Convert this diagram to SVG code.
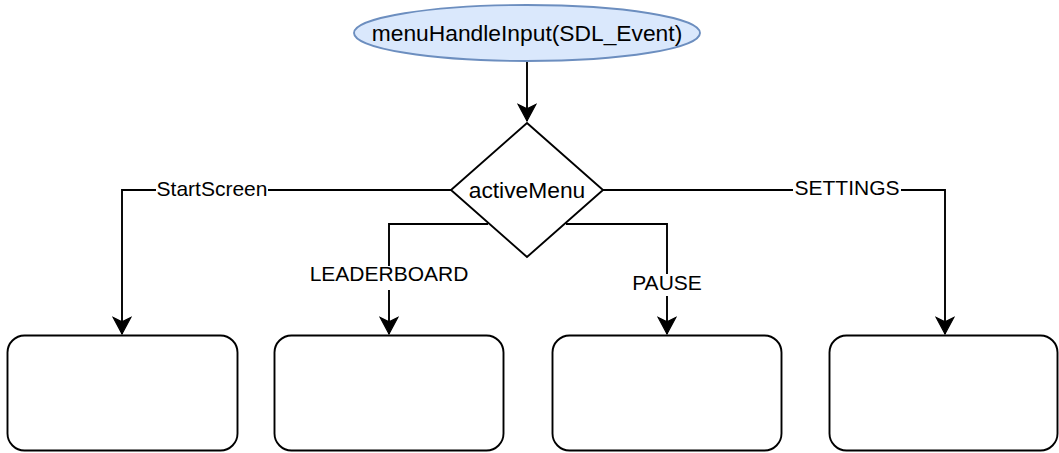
<svg xmlns="http://www.w3.org/2000/svg" width="1059" height="453" viewBox="0 0 1059 453">
<style>
.conn{fill:none;stroke:#000;stroke-width:1.9;}
.box{fill:#fff;stroke:#000;stroke-width:1.9;}
.lbl{font-family:"Liberation Sans",Arial,sans-serif;font-size:21px;fill:#000;text-anchor:middle;}
.main{font-family:"Liberation Sans",Arial,sans-serif;font-size:22.8px;fill:#000;text-anchor:middle;}
.bg{fill:#fff;}
</style>
<defs>
<marker id="arr" markerUnits="userSpaceOnUse" markerWidth="20" markerHeight="20" viewBox="-16 -9 18 18" refX="0" refY="0" orient="auto">
<path d="M0,0 L-15,-8 L-11,0 L-15,8 Z" fill="#000" stroke="#000" stroke-width="1"/>
</marker>
</defs>
<g id="connectors">
<path class="conn" d="M527,61 L527,121" marker-end="url(#arr)"/>
<path class="conn" d="M451,190 L122,190 L122,334" marker-end="url(#arr)"/>
<path class="conn" d="M488,224 L389,224 L389,334" marker-end="url(#arr)"/>
<path class="conn" d="M566,224 L667,224 L667,334" marker-end="url(#arr)"/>
<path class="conn" d="M603,190 L945,190 L945,334" marker-end="url(#arr)"/>
<g id="edge-labels">
<rect class="bg" x="156" y="179" width="112" height="22"/>
<text class="lbl" x="212" y="196">StartScreen</text>
<rect class="bg" x="308" y="266" width="161" height="24"/>
<text class="lbl" x="389" y="281">LEADERBOARD</text>
<rect class="bg" x="630" y="274" width="74" height="22"/>
<text class="lbl" x="667" y="290">PAUSE</text>
<rect class="bg" x="793" y="179" width="108" height="22"/>
<text class="lbl" x="847" y="195">SETTINGS</text>
</g>
</g>
<g id="start">
<ellipse cx="527" cy="33" rx="173" ry="28" fill="#dae8fc" stroke="#6c8ebf" stroke-width="1.9"/>
<text class="main" x="527" y="41">menuHandleInput(SDL_Event)</text>
</g>
<g id="activeMenu">
<polygon class="box" points="527,123 603,190 527,257 451,190"/>
<text class="main" x="527" y="198">activeMenu</text>
</g>
<g id="box-startscreen"><rect class="box" x="7.5" y="335.5" width="230" height="115" rx="17" ry="17"/></g>
<g id="box-leaderboard"><rect class="box" x="274.5" y="335.5" width="229" height="115" rx="17" ry="17"/></g>
<g id="box-pause"><rect class="box" x="552.5" y="335.5" width="229" height="115" rx="17" ry="17"/></g>
<g id="box-settings"><rect class="box" x="829.5" y="335.5" width="228" height="115" rx="17" ry="17"/></g>
</svg>
